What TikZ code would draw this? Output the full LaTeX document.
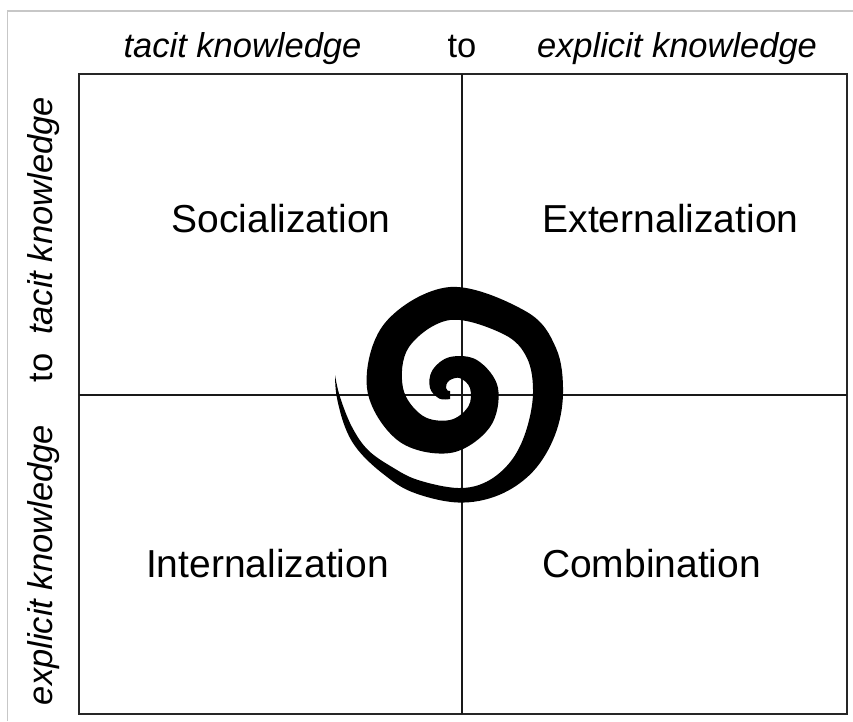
\documentclass[tikz,border=0pt]{standalone}
\usepackage{fontspec}
\setmainfont{Liberation Sans}
\begin{document}
\begin{tikzpicture}[x=1pt,y=-1pt,
  axislabel/.style={font=\fontsize{34.5}{40}\selectfont\itshape, anchor=base, inner sep=0pt},
  tolabel/.style={font=\fontsize{34.5}{40}\selectfont, anchor=base, inner sep=0pt},
  quadlabel/.style={font=\fontsize{39}{46}\selectfont, anchor=base, inner sep=0pt},
  frameline/.style={draw=black!85, line width=2.2pt},
  gridline/.style={draw=black!90, line width=1.8pt},
  outerframe/.style={draw=black!22, line width=1.4pt}]
\useasboundingbox (0,0) rectangle (853,721);
\fill[white] (0,0) rectangle (853,721);
% light outer frame
\coordinate (fb) at (7.5,721);
\coordinate (fc) at (7.5,11);
\coordinate (fr) at (853,11);
\draw[outerframe] (fb) -- (fc) -- (fr);
% main box
\coordinate (tl) at (79,74);
\coordinate (br) at (847,714);
\coordinate (mt) at (462,74);
\coordinate (mb) at (462,714);
\coordinate (ml) at (79,395);
\coordinate (mr) at (847,395);
\draw[frameline] (tl) rectangle (br);
\draw[gridline] (mt) -- (mb);
\draw[gridline] (ml) -- (mr);
% top labels
\node[axislabel] (ttacit) at (242.5,57) {tacit knowledge};
\node[tolabel] (tto) at (462,57) {to};
\node[axislabel] (texpl) at (677,57) {explicit knowledge};
% left labels
\node[axislabel, rotate=90] (ltacit) at (52.5,216) {tacit knowledge};
\node[tolabel, rotate=90] (lto) at (52.5,368) {to};
\node[axislabel, rotate=90] (lexpl) at (52.5,565) {explicit knowledge};
% quadrant labels
\node[quadlabel] (soc) at (281,232) {Socialization};
\node[quadlabel] (ext) at (670.5,232) {Externalization};
\node[quadlabel] (int) at (267.5,577) {Internalization};
\node[quadlabel] (com) at (651.5,577) {Combination};
% spiral
\begin{scope}[shift={(450,388)}]
\fill[black] plot[smooth, tension=0.6] coordinates {(-115,-13) (-113.3,8.7) (-105,39) (-92,62) (-68,85) (-38,104) (8,114.5) (49,107) (83,83.5) (105,47) (113,5) (106,-40) (-405:108) (-450:101) (-495:92) (-540:83) (-585:74) (-630:65) (-675:56) (-720:48) (-765:39) (-810:31) (-855:25) (-900:20) (-945:15) (-990:11)}
  -- plot[smooth, tension=0.6] coordinates {(-990:3) (-945:3.5) (-900:4) (-855:5) (-810:8) (-765:14) (-720:20) (-675:26) (-630:32) (-585:39) (-540:47) (-495:58) (-450:68) (-405:76) (77,-30) (83,5) (76,43) (61,73) (37,93.5) (8,100) (-32,92) (-58,79) (-82,62) (-98,39) (-110,9) (-115,-13)} -- cycle;
\end{scope}
\end{tikzpicture}
\end{document}
